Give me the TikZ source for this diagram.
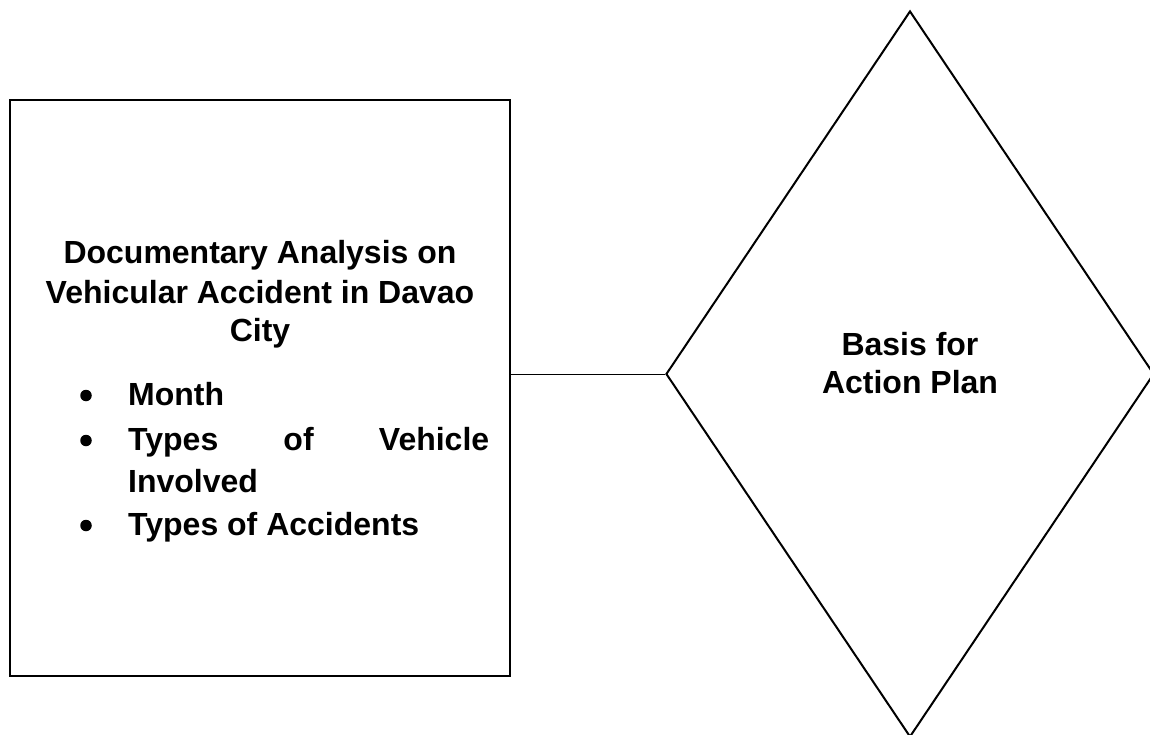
\documentclass[tikz,border=0pt]{standalone}
\usepackage{fontspec}
\setmainfont{Liberation Sans}
\usetikzlibrary{shapes.geometric,positioning}

\begin{document}
\begin{tikzpicture}[x=1pt,y=-1pt,
    docbox/.style={rectangle, draw, line width=2pt, minimum width=500pt, minimum height=576pt, inner sep=0pt},
    planbox/.style={diamond, draw, line width=2pt, aspect=0.672, minimum width=488pt, minimum height=726pt, inner sep=0pt},
    txt/.style={inner sep=0pt, font=\fontsize{32}{39}\selectfont\bfseries},
    dot/.style={circle, fill, inner sep=0pt, minimum size=11.5pt}]
            \useasboundingbox (0,0) rectangle (1150,735);

            \node[docbox] (doc) at (260,388) {};
            \node[planbox] (plan) at (910,374) {};

            % title of the left box
            \foreach \t/ \y [count=\i] in {Documentary Analysis on/263, Vehicular Accident in Davao/303, City/341}{
                \node[txt, anchor=base] (title\i) at (260,\y) {\t};
            }

            % bullet list
            \foreach \y [count=\i] in {405,450,535}{
                \node[dot] (dot\i) at (86,\y-9.5) {};
            }
            \node[txt, anchor=base west] (item1) at (128,405) {Month};
            \node[txt, anchor=base west, text width=361pt, align=left] (item2) at (128,450) {Types\hfill of\hfill Vehicle};
            \node[txt, anchor=base west] (item2b) at (128,492) {Involved};
            \node[txt, anchor=base west] (item3) at (128,535) {Types of Accidents};

            % text in the diamond
            \node[txt, anchor=base] (basis) at (910,355) {Basis for};
            \node[txt, anchor=base] (action) at (910,393) {Action Plan};

            \draw[line width=1pt] (doc.east |- plan.west) -- (plan.west);

    \end{tikzpicture}
\end{document}
